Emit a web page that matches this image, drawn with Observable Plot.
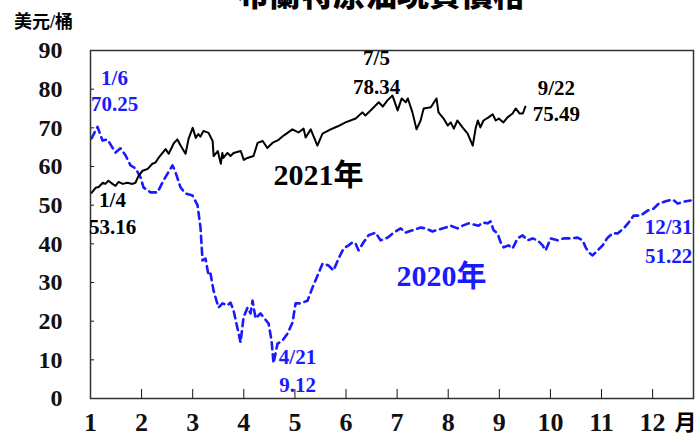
<!DOCTYPE html>
<html>
<head>
<meta charset="utf-8">
<script src="https://cdn.jsdelivr.net/npm/d3@7"></script>
<script src="https://cdn.jsdelivr.net/npm/@observablehq/plot@0.6"></script>
<style>
  html, body { margin: 0; padding: 0; background: #fff; }
  #wrap { position: relative; width: 697px; height: 436px; overflow: hidden; background: #fff; }
  #title { position: absolute; top: -24px; left: 237px; white-space: nowrap;
           font-family: "Noto Sans CJK TC", "Noto Sans CJK SC", sans-serif; font-weight: 900;
           font-size: 32px; line-height: 32px; color: #000; }
  #chart { position: absolute; top: 0; left: 0; }
</style>
</head>
<body>
<div id="wrap">
  <div id="chart"></div>
  <div id="title">布蘭特原油現貨價格</div>
</div>
<script>
// ---- data (x = month position on the axis, y = US$ per barrel) ----
const months2021 = [1.02,1.10,1.16,1.24,1.29,1.35,1.43,1.49,1.55,1.63,1.72,1.82,1.88,1.94,2.02,2.12,2.21,2.27,2.33,2.41,2.47,2.53,2.63,2.70,2.76,2.86,2.92,3.00,3.06,3.11,3.15,3.21,3.31,3.39,3.41,3.49,3.55,3.58,3.60,3.68,3.74,3.80,3.94,4.00,4.07,4.19,4.27,4.37,4.46,4.56,4.68,4.78,4.95,5.07,5.17,5.21,5.31,5.44,5.54,5.70,5.84,5.99,6.19,6.32,6.38,6.52,6.64,6.72,6.81,6.91,7.01,7.09,7.17,7.21,7.30,7.38,7.46,7.52,7.66,7.77,7.81,7.91,7.99,8.05,8.11,8.18,8.28,8.38,8.48,8.54,8.58,8.63,8.69,8.79,8.87,8.93,8.99,9.08,9.16,9.26,9.32,9.40,9.46,9.51];
const prices2021 = [53.16,54.5,54.7,55.8,55.5,56.3,55.5,55.0,56.0,55.5,55.8,55.5,55.8,57.6,58.9,59.4,60.7,61.0,62.2,63.5,64.5,63.3,66.0,67.0,65.5,63.3,67.2,70.0,67.4,68.4,67.7,69.2,68.7,66.6,62.7,64.0,60.7,63.5,62.2,63.5,62.7,63.5,64.0,61.7,62.2,62.7,66.1,66.6,64.8,66.1,66.9,68.0,69.6,68.8,69.8,67.5,69.6,65.4,68.5,69.6,70.4,71.4,72.4,74.0,73.2,75.0,76.6,75.5,77.1,78.34,74.5,77.6,76.6,77.6,74.0,69.6,71.9,75.0,75.3,77.6,74.0,72.4,70.6,71.4,69.8,71.9,70.1,68.5,65.4,70.1,71.9,70.1,71.9,72.7,73.5,71.9,72.4,71.4,72.7,73.7,75.0,73.7,73.7,75.49];

const months2020 = [1.02,1.137,1.235,1.333,1.489,1.587,1.685,1.783,1.881,1.979,2.037,2.174,2.311,2.429,2.605,2.664,2.762,2.859,2.996,3.094,3.153,3.192,3.251,3.310,3.349,3.408,3.505,3.584,3.682,3.740,3.799,3.877,3.936,3.995,4.073,4.132,4.171,4.230,4.327,4.386,4.484,4.543,4.582,4.660,4.758,4.856,4.954,5.013,5.110,5.247,5.345,5.443,5.541,5.658,5.756,5.854,5.952,6.050,6.128,6.187,6.246,6.344,6.441,6.578,6.676,6.813,6.931,7.068,7.166,7.303,7.459,7.557,7.694,7.811,7.949,8.046,8.183,8.281,8.399,8.497,8.594,8.673,8.771,8.829,8.888,8.966,9.025,9.084,9.182,9.260,9.358,9.456,9.553,9.651,9.749,9.847,9.906,10.004,10.141,10.258,10.395,10.532,10.630,10.689,10.748,10.826,10.924,11.022,11.119,11.217,11.315,11.433,11.530,11.628,11.765,11.902,12.020,12.118,12.255,12.392,12.490,12.607,12.744];
const prices2020 = [67.3,70.25,66.7,67.0,63.6,64.7,62.9,60.3,59.5,57.2,54.6,53.3,53.3,56.4,60.3,58.5,54.6,53.0,52.5,50.0,44.2,35.7,36.2,31.8,32.3,27.9,23.5,24.6,24.1,24.8,22.8,18.1,14.5,21.0,23.5,22.0,25.3,20.7,22.0,21.0,19.4,15.0,9.12,14.2,15.0,16.8,19.7,24.6,24.6,25.3,28.7,31.8,34.9,34.4,33.1,36.2,38.8,39.6,40.4,40.1,38.3,40.4,42.2,42.9,40.9,41.6,42.9,44.0,42.9,43.5,44.2,44.0,43.2,43.7,44.2,44.7,44.0,44.7,45.3,45.0,44.7,45.5,45.3,45.8,43.5,42.7,40.4,39.1,39.6,38.8,41.4,42.2,40.9,41.4,40.9,39.6,38.3,41.4,40.9,41.4,41.4,41.6,40.9,39.1,37.8,37.0,38.3,39.6,41.6,42.7,42.7,44.0,45.5,47.3,47.3,48.6,49.1,50.4,51.0,51.5,50.4,50.9,51.22];

// highlighted points
const keyDates2021 = ["1/4", "7/5", "9/22"];
const keyMonths2021 = [1.02, 6.91, 9.51];
const keyValues2021 = [53.16, 78.34, 75.49];
const keyDates2020 = ["1/6", "4/21", "12/31"];
const keyMonths2020 = [1.137, 4.582, 12.744];
const keyValues2020 = [70.25, 9.12, 51.22];

const xTicks = [1,2,3,4,5,6,7,8,9,10,11,12];
const yTicks = [0,10,20,30,40,50,60,70,80,90];
const seriesNames = ["2021年", "2020年"];
const unitLabel = "美元/桶";
const monthLabel = "月";

// ---- build tables ----
const s2021 = months2021.map((m, i) => ({m, v: prices2021[i]}));
const s2020 = months2020.map((m, i) => ({m, v: prices2020[i]}));
const k2021 = keyDates2021.map((d, i) => ({d, m: keyMonths2021[i], v: keyValues2021[i], t: keyValues2021[i].toFixed(2)}));
const k2020 = keyDates2020.map((d, i) => ({d, m: keyMonths2020[i], v: keyValues2020[i], t: keyValues2020[i].toFixed(2)}));

const BLUE = "#1a1aff";
const SERIF = "'Liberation Serif','Times New Roman','Noto Sans CJK TC',serif";
const lab = {fontSize: 21, fontWeight: "bold", fontFamily: SERIF};

function keyLabels(rows, fill, offs) {
  const marks = [];
  rows.forEach((r, i) => {
    const [dx, dy1, dy2] = offs[i];
    marks.push(Plot.text([r], {x: "m", y: "v", text: "d", dx, dy: dy1, fill, ...lab}));
    marks.push(Plot.text([r], {x: "m", y: "v", text: "t", dx, dy: dy2, fill, ...lab}));
  });
  return marks;
}

const chart = Plot.plot({
  width: 697,
  height: 436,
  marginLeft: 90,
  marginRight: 4,
  marginTop: 50,
  marginBottom: 38,
  style: {fontFamily: SERIF, background: "transparent", color: "#000", overflow: "visible"},
  x: {domain: [1, 12.8], label: null},
  y: {domain: [0, 90], label: null},
  marks: [
    Plot.axisY(yTicks, {label: null, tickSize: -4, tickPadding: 32, fontSize: 24, fontWeight: "bold", color: "#111"}),
    Plot.axisX(xTicks, {label: null, tickSize: -9, tickPadding: 23, fontSize: 26, fontWeight: "bold", color: "#111"}),
    Plot.line(s2020, {x: "m", y: "v", stroke: BLUE, strokeWidth: 2.6, strokeDasharray: "7,5"}),
    Plot.line(s2021, {x: "m", y: "v", stroke: "#000", strokeWidth: 2}),
    Plot.frame({stroke: "#333", strokeWidth: 1.5}),
    ...keyLabels(k2021, "#000", [[21, 7, 34], [-16, -37, -8], [31, -18, 8]]),
    ...keyLabels(k2020, BLUE, [[17, -49, -23], [24, -6, 22], [-22, 27, 56]]),
    Plot.text([seriesNames[0]], {x: 5.46, y: 57.6, text: d => d, fontSize: 30, fontWeight: "bold", fill: "#000", fontFamily: SERIF}),
    Plot.text([seriesNames[1]], {x: 7.87, y: 31.5, text: d => d, fontSize: 30, fontWeight: "bold", fill: BLUE, fontFamily: SERIF}),
    Plot.text([unitLabel], {frameAnchor: "top-left", text: d => d, dx: -47, dy: -28, textAnchor: "middle", lineAnchor: "middle", fontSize: 18, fontWeight: "bold", fill: "#000", fontFamily: SERIF}),
    Plot.text([monthLabel], {frameAnchor: "bottom-right", text: d => d, dx: -8, dy: 24, textAnchor: "middle", lineAnchor: "middle", fontSize: 22, fontWeight: "bold", fill: "#000", fontFamily: SERIF})
  ]
});
document.getElementById("chart").appendChild(chart);
</script>
</body>
</html>
